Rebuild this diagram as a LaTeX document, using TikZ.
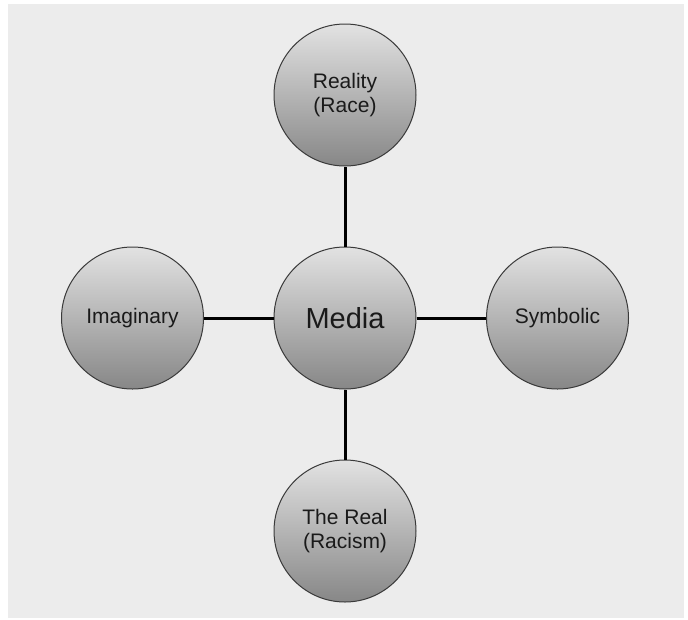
\documentclass[tikz,border=0pt]{standalone}
\usepackage{fontspec}
\setmainfont{Liberation Sans}
\definecolor{paper}{HTML}{ECECEC}
\definecolor{ballTop}{HTML}{E2E2E2}
\definecolor{ballBottom}{HTML}{878787}
\definecolor{ringgray}{HTML}{3A3A3A}
\definecolor{inkgray}{HTML}{1A1A1A}

\begin{document}
\begin{tikzpicture}[x=1pt, y=-1pt,
  concept/.style={circle, draw=ringgray, line width=1pt, top color=ballTop,
    bottom color=ballBottom, minimum size=142pt, inner sep=0pt, align=center,
    text=inkgray, font=\fontsize{21}{24}\selectfont},
  link/.style={line width=3pt, black}]
  % ---------------------------------------------------------------- frame
  \useasboundingbox (0,0) rectangle (688,619);
  \fill[white] (0,0) rectangle (688,619);
  \fill[paper] (8,4) rectangle (684,618);
  % ---------------------------------------------------------------- the four registers round the media
  \node[concept, font=\fontsize{29}{34}\selectfont] (media) at (345,318) {Media};
  \node[concept] (reality)   at (345,95)    {Reality\\(Race)};
  \node[concept] (imaginary) at (132.5,318) {Imaginary};
  \node[concept] (symbolic)  at (557.5,318) {Symbolic};
  \node[concept] (real)      at (345,531)   {The Real\\(Racism)};
  % spokes
  \draw[link] (media) -- (reality);
  \draw[link] (media) -- (imaginary);
  \draw[link] (media) -- (symbolic);
  \draw[link] (media) -- (real);
\end{tikzpicture}
\end{document}
